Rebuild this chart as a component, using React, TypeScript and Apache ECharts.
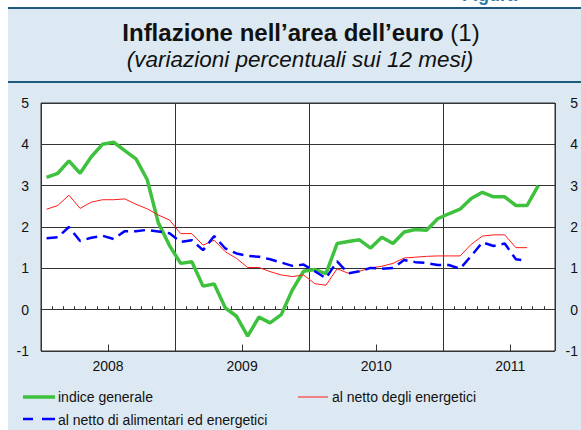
import React, { useEffect, useRef } from "react";
import * as echarts from "echarts";

// Monthly observations, Jan 2008 .. Oct 2011 (46 months)
const years = ["2008", "2009", "2010", "2011"];
const monthCount = 46;

const indiceGenerale: (number | null)[] = [
  3.2, 3.3, 3.6, 3.3, 3.7, 4.0, 4.05, 3.85, 3.65, 3.15, 2.1, 1.55,
  1.12, 1.16, 0.57, 0.62, 0.04, -0.16, -0.64, -0.18, -0.32, -0.12, 0.48, 0.93,
  0.97, 0.87, 1.6, 1.65, 1.69, 1.49, 1.75, 1.6, 1.88, 1.94, 1.92, 2.2,
  2.32, 2.43, 2.69, 2.84, 2.73, 2.73, 2.52, 2.52, 3.0, null,
];

const nettoEnergetici: (number | null)[] = [
  2.43, 2.52, 2.77, 2.45, 2.6, 2.66, 2.66, 2.68, 2.55, 2.44, 2.29, 2.17,
  1.84, 1.84, 1.56, 1.68, 1.4, 1.24, 1.02, 1.02, 0.92, 0.84, 0.8, 0.84,
  0.63, 0.59, 0.99, 0.88, 0.93, 1.01, 1.05, 1.12, 1.25, 1.27, 1.29, 1.3,
  1.3, 1.3, 1.58, 1.78, 1.81, 1.81, 1.5, 1.5, null, null,
];

const nettoAlimEnerg: (number | null)[] = [
  1.73, 1.75, 2.0, 1.66, 1.74, 1.79, 1.71, 1.9, 1.9, 1.93, 1.89, 1.85,
  1.64, 1.68, 1.44, 1.78, 1.48, 1.36, 1.3, 1.28, 1.22, 1.14, 1.06, 1.09,
  0.93, 0.76, 1.17, 0.88, 0.93, 1.01, 0.99, 1.01, 1.2, 1.15, 1.13, 1.08,
  1.08, 0.99, 1.3, 1.63, 1.54, 1.6, 1.22, 1.18, null, null,
];

const yTicks = { min: -1, max: 5, interval: 1 };

const FONT = "'Liberation Sans', Arial, Helvetica, sans-serif";
const GRID_COLOR = "#333333";

const toPoints = (arr: (number | null)[]) =>
  arr.map((v, i) => [i + 0.5, v]);

export default function App() {
  const ref = useRef<HTMLDivElement>(null);
  useEffect(() => {
    if (!ref.current) return;
    const chart = echarts.init(ref.current, undefined, { renderer: "svg" });
    const xBase = { type: "value" as const, min: 0, max: monthCount, position: "bottom" as const, offset: 0, z: 2 };
    chart.setOption({
      animation: false,
      backgroundColor: "#ffffff",
      textStyle: { fontFamily: FONT },
      grid: {
        left: 41,
        right: 24,
        top: 103,
        bottom: 79,
        show: true,
        borderColor: GRID_COLOR,
        borderWidth: 1,
        backgroundColor: "#ffffff",
      },
      xAxis: [
        {
          ...xBase,
          interval: 1,
          axisLine: { show: true, lineStyle: { color: GRID_COLOR, width: 1 } },
          axisTick: { show: true, inside: true, length: 3.5, lineStyle: { color: GRID_COLOR } },
          axisLabel: { show: false },
          splitLine: { show: false },
        },
        {
          ...xBase,
          interval: 12,
          axisLine: { show: false },
          axisTick: { show: false },
          axisLabel: { show: false },
          splitLine: { show: true, lineStyle: { color: GRID_COLOR, width: 1 } },
        },
        {
          ...xBase,
          interval: 6,
          axisLine: { show: false },
          axisTick: { show: true, inside: true, length: 6.5, lineStyle: { color: GRID_COLOR } },
          axisLabel: {
            show: true,
            margin: 8,
            fontSize: 14,
            color: "#111",
            fontFamily: FONT,
            formatter: (v: number) => (v % 12 === 6 ? years[(v - 6) / 12] ?? "" : ""),
          },
          splitLine: { show: false },
        },
      ],
      yAxis: [
        {
          type: "value",
          ...yTicks,
          position: "left",
          z: 2,
          axisLine: { show: false },
          axisTick: { show: false },
          axisLabel: { fontSize: 14, color: "#111", margin: 12, fontFamily: FONT },
          splitLine: { show: true, lineStyle: { color: GRID_COLOR, width: 1 } },
        },
        {
          type: "value",
          ...yTicks,
          position: "right",
          z: 2,
          axisLine: { show: false },
          axisTick: { show: false },
          axisLabel: { fontSize: 14, color: "#111", margin: 23, align: "right", fontFamily: FONT },
          splitLine: { show: false },
        },
      ],
      series: [
        {
          name: "indice generale",
          type: "line",
          xAxisIndex: 0,
          yAxisIndex: 0,
          data: toPoints(indiceGenerale),
          symbol: "none",
          lineStyle: { color: "#3ec23e", width: 3.5 },
          z: 3,
        },
        {
          name: "al netto degli energetici",
          type: "line",
          xAxisIndex: 0,
          yAxisIndex: 0,
          data: toPoints(nettoEnergetici),
          symbol: "none",
          lineStyle: { color: "#ff1a1a", width: 1 },
          z: 4,
        },
        {
          name: "al netto di alimentari ed energetici",
          type: "line",
          xAxisIndex: 0,
          yAxisIndex: 0,
          data: toPoints(nettoAlimEnerg),
          symbol: "none",
          lineStyle: { color: "#0000ff", width: 2.5, type: [11, 6] },
          z: 5,
        },
      ],
      graphic: [
        { type: "rect", z: -100, shape: { x: 8, y: 8, width: 573, height: 422 }, style: { fill: "#dde9f2" } },
        { type: "rect", z: 10, shape: { x: 8, y: 7, width: 573, height: 2 }, style: { fill: "#1d5a7c" } },
        { type: "rect", z: 10, shape: { x: 8, y: 81, width: 573, height: 2 }, style: { fill: "#1d5a7c" } },
        {
          type: "text",
          z: 10,
          x: 462,
          y: -5,
          style: { text: "Figura", fontSize: 18, fontWeight: "bold", fill: "#2a78a8", fontFamily: FONT, verticalAlign: "middle" },
        },
        {
          type: "text",
          z: 10,
          x: 301,
          y: 32,
          style: {
            text: "{b|Inflazione nell’area dell’euro}{n| (1)}",
            align: "center",
            verticalAlign: "middle",
            fill: "#111",
            fontFamily: FONT,
            rich: {
              b: { fontSize: 24, fontWeight: "bold", fill: "#111", fontFamily: FONT },
              n: { fontSize: 24, fontWeight: "normal", fill: "#111", fontFamily: FONT },
            },
          },
        },
        {
          type: "text",
          z: 10,
          x: 300,
          y: 59,
          style: {
            text: "(variazioni percentuali sui 12 mesi)",
            align: "center",
            verticalAlign: "middle",
            fontSize: 22.5,
            fontStyle: "italic",
            fill: "#111",
            fontFamily: FONT,
          },
        },
        // legend
        { type: "line", z: 10, shape: { x1: 23, y1: 397, x2: 55, y2: 397 }, style: { stroke: "#3ec23e", lineWidth: 3.5 } },
        { type: "text", z: 10, x: 58, y: 397, style: { text: "indice generale", fontSize: 14, fill: "#111", fontFamily: FONT, verticalAlign: "middle" } },
        { type: "line", z: 10, shape: { x1: 298, y1: 397, x2: 328, y2: 397 }, style: { stroke: "#ff1a1a", lineWidth: 1 } },
        { type: "text", z: 10, x: 332, y: 397, style: { text: "al netto degli energetici", fontSize: 14, fill: "#111", fontFamily: FONT, verticalAlign: "middle" } },
        { type: "line", z: 10, shape: { x1: 23, y1: 419, x2: 55, y2: 419 }, style: { stroke: "#0000ff", lineWidth: 2.5, lineDash: [10, 9, 14, 9] } },
        { type: "text", z: 10, x: 58, y: 420, style: { text: "al netto di alimentari ed energetici", fontSize: 14, fill: "#111", fontFamily: FONT, verticalAlign: "middle" } },
      ],
    });
    return () => chart.dispose();
  }, []);
  return (
    <div
      ref={ref}
      style={{ position: "absolute", left: 0, top: 0, width: 581, height: 430 }}
    />
  );
}
